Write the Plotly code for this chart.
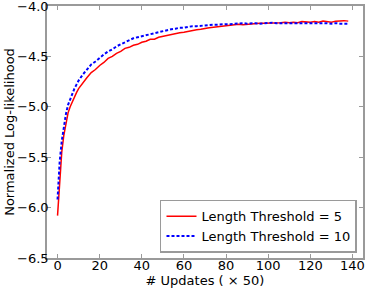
import plotly.graph_objects as go

updates = [0, 1, 2, 3, 4, 5, 6, 7, 8, 9, 10] + list(range(12, 139, 2))

ll_thr5 = [-6.08, -5.72, -5.45, -5.28, -5.15, -5.06, -5.00, -4.95, -4.90, -4.86, -4.82,
           -4.76, -4.71, -4.66, -4.63, -4.59, -4.56, -4.52, -4.50, -4.47, -4.45,
           -4.42, -4.41, -4.39, -4.38, -4.36, -4.35, -4.33, -4.33, -4.31, -4.30,
           -4.29, -4.28, -4.275, -4.265, -4.26, -4.25, -4.24, -4.235, -4.23, -4.22,
           -4.215, -4.21, -4.205, -4.20, -4.195, -4.19, -4.19, -4.18, -4.185, -4.18,
           -4.175, -4.175, -4.17, -4.17, -4.17, -4.165, -4.17, -4.165, -4.16, -4.165,
           -4.16, -4.165, -4.155, -4.16, -4.16, -4.155, -4.16, -4.15, -4.155, -4.16,
           -4.15, -4.145, -4.145, -4.15]

ll_thr10 = [-5.92, -5.55, -5.34, -5.19, -5.07, -4.98, -4.92, -4.86, -4.82, -4.78, -4.74,
            -4.68, -4.63, -4.58, -4.55, -4.51, -4.48, -4.45, -4.43, -4.40, -4.38,
            -4.36, -4.34, -4.32, -4.31, -4.30, -4.285, -4.275, -4.265, -4.255, -4.25,
            -4.24, -4.23, -4.225, -4.215, -4.215, -4.205, -4.20, -4.20, -4.195, -4.19,
            -4.19, -4.185, -4.185, -4.18, -4.18, -4.18, -4.175, -4.175, -4.17, -4.175,
            -4.17, -4.17, -4.175, -4.17, -4.17, -4.165, -4.17, -4.17, -4.165, -4.17,
            -4.17, -4.17, -4.165, -4.17, -4.17, -4.17, -4.165, -4.17, -4.17, -4.175,
            -4.17, -4.175, -4.175, -4.175]

x_ticks = [0, 20, 40, 60, 80, 100, 120, 140]
y_ticks = [-6.5, -6.0, -5.5, -5.0, -4.5, -4.0]
y_tick_labels = ["\u22126.5", "\u22126.0", "\u22125.5", "\u22125.0", "\u22124.5", "\u22124.0"]

font = "DejaVu Sans"
fs = 13
tfs = 13
frame = "#9a9a9a"

fig = go.Figure()
fig.add_trace(go.Scatter(x=updates, y=ll_thr5, mode="lines", name="Length Threshold = 5",
                         line=dict(color="#ff0000", width=1.5)))
fig.add_trace(go.Scatter(x=updates, y=ll_thr10, mode="lines", name="Length Threshold = 10",
                         line=dict(color="#0000ff", width=2, dash="3px,2px")))

axis_common = dict(showgrid=False, zeroline=False, showline=True, linecolor=frame,
                   linewidth=1.5, mirror="ticks", ticks="inside", ticklen=4,
                   tickcolor=frame, automargin=False, ticklabeloverflow="allow",
                   tickfont=dict(family=font, size=tfs, color="black"))

fig.update_layout(
    width=366, height=289,
    margin=dict(l=47, r=3, t=6, b=31),
    paper_bgcolor="white", plot_bgcolor="white",
    font=dict(family=font, size=fs, color="black"),
    xaxis=dict(range=[-5, 145], tickvals=x_ticks, ticklabelstandoff=-5,
               title=dict(text="# Updates ( \u00d7 50)", standoff=0,
                          font=dict(family=font, size=fs)),
               **axis_common),
    yaxis=dict(range=[-6.5, -3.9999], tickvals=y_ticks, ticktext=y_tick_labels,
               ticklabelstandoff=-6,
               title=dict(text="Normalized Log-likelihood", standoff=0,
                          font=dict(family=font, size=fs)),
               **axis_common),
    legend=dict(x=0.981, y=0.021, xanchor="right", yanchor="bottom",
                bordercolor=frame, borderwidth=1.5, bgcolor="white",
                itemwidth=30,
                font=dict(family=font, size=fs), tracegroupgap=0),
    showlegend=True,
)

fig.write_html("out.html", config={"displayModeBar": False},
               post_script="document.body.style.margin='0';document.body.style.padding='0';")
